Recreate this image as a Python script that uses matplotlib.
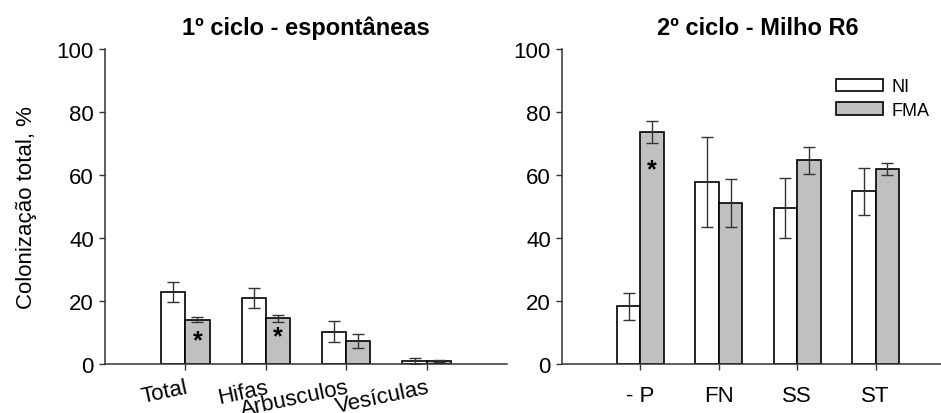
import numpy as np
import matplotlib
matplotlib.use("Agg")
import matplotlib.pyplot as plt
from matplotlib.patches import Patch

plt.rcParams['font.family'] = ['Liberation Sans', 'DejaVu Sans']

# panel 1 - 1o ciclo
cats1 = ['Total', 'Hifas', 'Arbusculos', 'Vesículas']
ni1 = [22.9, 21.0, 10.3, 1.0]
ni1_err = [3.2, 3.1, 3.2, 1.0]
fma1 = [14.0, 14.5, 7.4, 1.0]
fma1_err = [0.8, 1.1, 2.2, 0.4]
stars1 = [0, 1]          # FMA bars with asterisk
stars1_y = [7.6, 8.7]    # where the asterisk sits

# panel 2 - 2o ciclo
cats2 = ['- P', 'FN', 'SS', 'ST']
ni2 = [18.3, 57.9, 49.5, 54.8]
ni2_err = [4.3, 14.3, 9.6, 7.5]
fma2 = [73.7, 51.1, 64.6, 62.0]
fma2_err = [3.4, 7.6, 4.2, 1.9]
stars2 = [0]
stars2_y = [61.7]

yticks = [0, 20, 40, 60, 80, 100]
gray = '#c0c0c0'
W = 0.3


def draw(ax, cats, ni, ni_err, fma, fma_err, stars, stars_y, title):
    x = np.arange(len(cats))
    ax.bar(x - W/2, ni, W, color='white', edgecolor='black', linewidth=1.2, zorder=2)
    ax.bar(x + W/2, fma, W, color=gray, edgecolor='black', linewidth=1.2, zorder=2)
    ax.errorbar(x - W/2, ni, yerr=ni_err, fmt='none', ecolor='#333333',
                elinewidth=1, capsize=4.5, capthick=1, zorder=3)
    ax.errorbar(x + W/2, fma, yerr=fma_err, fmt='none', ecolor='#333333',
                elinewidth=1, capsize=4.5, capthick=1, zorder=3)
    for i, yy in zip(stars, stars_y):
        ax.text(x[i] + W/2, yy, '*', ha='center', va='center',
                fontsize=18, fontweight='bold', zorder=4)
    ax.set_xlim(-1, 4)
    ax.set_ylim(0, 100)
    ax.set_yticks(yticks)
    ax.set_xticks(x)
    for s in ['top', 'right']:
        ax.spines[s].set_visible(False)
    for s in ['left', 'bottom']:
        ax.spines[s].set_color('#333333')
        ax.spines[s].set_linewidth(1.1)
    ax.tick_params(axis='both', direction='out', length=4, width=1,
                   color='#333333', labelsize=16)
    ax.tick_params(axis='y', pad=4)
    ax.set_title(title, fontsize=17, fontweight='bold', pad=11)


fig = plt.figure(figsize=(9.41, 4.14), dpi=100)
ax1 = fig.add_axes([0.1116, 0.1184, 0.4272, 0.7609])
ax2 = fig.add_axes([0.5972, 0.1184, 0.4166, 0.7609])

draw(ax1, cats1, ni1, ni1_err, fma1, fma1_err, stars1, stars1_y, '1º ciclo - espontâneas')
draw(ax2, cats2, ni2, ni2_err, fma2, fma2_err, stars2, stars2_y, '2º ciclo - Milho R6')

ax1.set_xticklabels(cats1, rotation=12, ha='right', rotation_mode='anchor')
ax1.tick_params(axis='x', pad=5)
ax2.set_xticklabels(cats2)
ax2.tick_params(axis='x', pad=11)

ax1.set_ylabel('Colonização total, %', fontsize=16, labelpad=14)

handles = [Patch(facecolor='white', edgecolor='black', linewidth=1.2),
           Patch(facecolor=gray, edgecolor='black', linewidth=1.2)]
ax2.legend(handles, ['NI', 'FMA'], loc='upper left', bbox_to_anchor=(0.68, 0.93),
           frameon=False, fontsize=13, handlelength=2.6, handleheight=0.7,
           handletextpad=0.5, labelspacing=0.35, borderaxespad=0)

fig.savefig('out.png', dpi=100)
